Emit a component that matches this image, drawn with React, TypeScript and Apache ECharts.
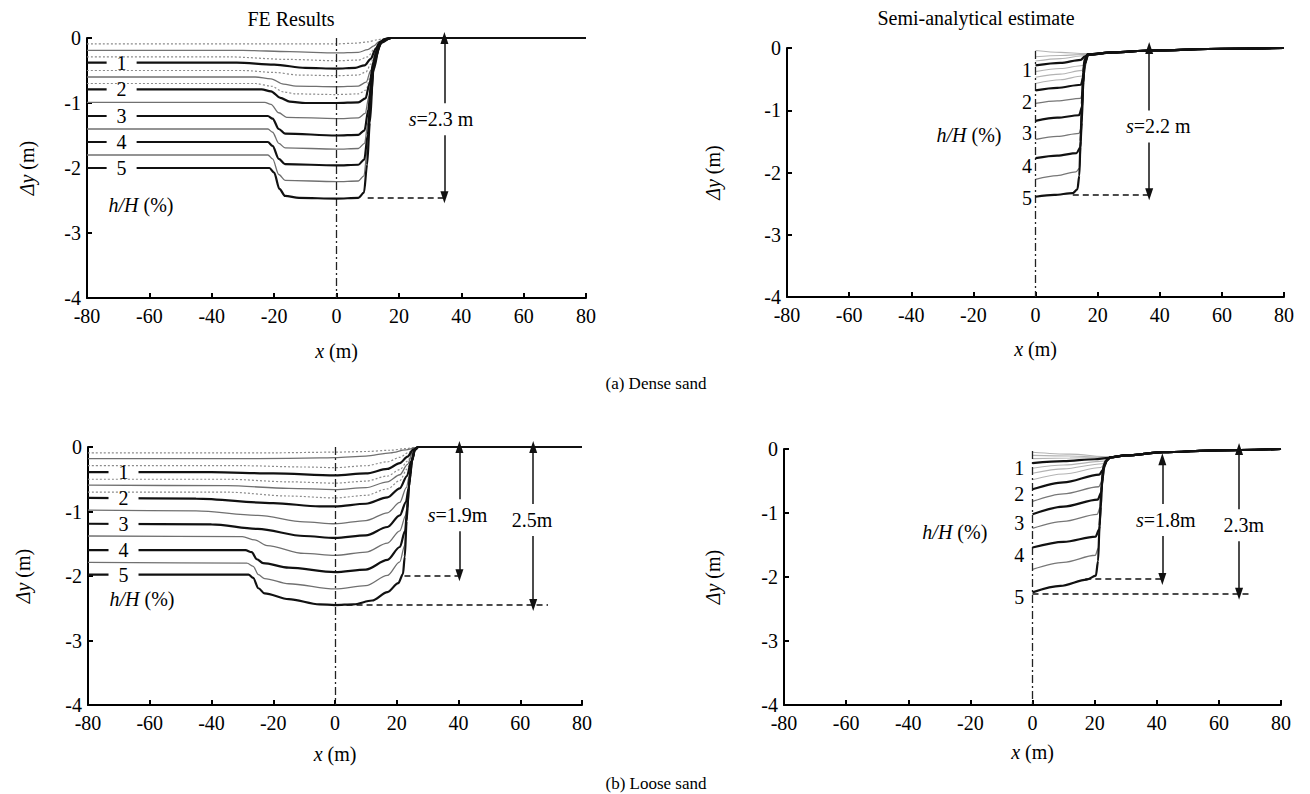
import React, { useEffect, useRef } from 'react';
import * as echarts from 'echarts';

const FONT = 'Liberation Serif, Times New Roman, serif';

// h/H (%) levels of the plotted profiles (same order in every panel)
const hHLevels = [0.25, 0.5, 0.75, 1, 1.25, 1.5, 1.75, 2, 2.5, 3, 3.5, 4, 4.5, 5];

// (a) Dense sand, FE results: [x (m), Δy (m)]
const feDense: number[][][] = [
  [[-80,-0.09],[-10,-0.09],[0,-0.09],[6,-0.08],[10,-0.06],[13,-0.03],[15,-0.01],[17,0],[80,0]],
  [[-80,-0.19],[-30,-0.19],[-15,-0.21],[0,-0.23],[7,-0.22],[10,-0.18],[12,-0.12],[13.5,-0.06],[15.5,-0.01],[17,0],[80,0]],
  [[-80,-0.29],[-35,-0.29],[-15,-0.33],[0,-0.35],[7,-0.34],[10,-0.29],[12,-0.18],[13.5,-0.08],[15.5,-0.02],[17,0],[80,0]],
  [[-80,-0.38],[-32,-0.38],[-20,-0.41],[-10,-0.46],[0,-0.47],[6,-0.46],[9,-0.42],[11,-0.32],[12.5,-0.17],[14,-0.06],[16,-0.01],[17.5,0],[80,0]],
  [[-80,-0.5],[-30,-0.5],[-20,-0.53],[-12,-0.57],[0,-0.58],[7,-0.57],[9.5,-0.52],[11,-0.4],[12.3,-0.22],[13.8,-0.07],[16,-0.01],[17.5,0],[80,0]],
  [[-80,-0.6],[-26,-0.6],[-21,-0.63],[-17,-0.71],[-13,-0.74],[0,-0.75],[7,-0.74],[9.5,-0.68],[11,-0.5],[12.2,-0.28],[13.6,-0.09],[16,-0.01],[17.5,0],[80,0]],
  [[-80,-0.7],[-26,-0.7],[-21,-0.74],[-17,-0.83],[-13,-0.86],[0,-0.87],[7,-0.86],[9.5,-0.8],[10.8,-0.6],[12,-0.32],[13.5,-0.1],[16,-0.01],[17.5,0],[80,0]],
  [[-80,-0.79],[-24,-0.79],[-21,-0.82],[-18,-0.92],[-15,-0.98],[-10,-1.0],[0,-1.0],[7,-0.99],[9.3,-0.93],[10.6,-0.7],[11.8,-0.38],[13.3,-0.12],[15.5,-0.02],[17.5,0],[80,0]],
  [[-80,-0.99],[-23,-0.99],[-21,-1.02],[-18.5,-1.15],[-16,-1.22],[0,-1.24],[7,-1.23],[9.2,-1.16],[10.4,-0.9],[11.5,-0.5],[13,-0.15],[15.5,-0.02],[17.5,0],[80,0]],
  [[-80,-1.2],[-22,-1.2],[-20.5,-1.24],[-18.5,-1.4],[-16.5,-1.47],[0,-1.5],[7,-1.49],[9,-1.42],[10.2,-1.1],[11.2,-0.65],[12.6,-0.22],[15,-0.03],[17.5,0],[80,0]],
  [[-80,-1.4],[-22,-1.4],[-20.5,-1.45],[-18.5,-1.62],[-16.5,-1.69],[0,-1.71],[7,-1.7],[9,-1.62],[10.1,-1.3],[11,-0.8],[12.4,-0.28],[15,-0.04],[17.5,0],[80,0]],
  [[-80,-1.6],[-22,-1.6],[-20.5,-1.66],[-18.5,-1.86],[-16.5,-1.94],[0,-1.96],[7,-1.95],[8.9,-1.87],[10,-1.5],[10.9,-0.95],[12.2,-0.33],[14.5,-0.05],[17.5,0],[80,0]],
  [[-80,-1.8],[-22,-1.8],[-20.5,-1.86],[-18.5,-2.1],[-16.5,-2.19],[0,-2.21],[7,-2.2],[8.8,-2.12],[9.9,-1.7],[10.8,-1.1],[12,-0.4],[14.5,-0.06],[17.5,0],[80,0]],
  [[-80,-2.0],[-21.5,-2.0],[-20,-2.07],[-18.3,-2.32],[-16.5,-2.43],[-12,-2.46],[0,-2.47],[7,-2.46],[8.8,-2.38],[9.8,-1.95],[10.7,-1.3],[11.8,-0.5],[14,-0.08],[17.5,0],[80,0]],
];

// (a) Dense sand, semi-analytical estimate
const saDense: number[][][] = [
  [[0,-0.04],[8,-0.07],[16,-0.09],[20,-0.085]],
  [[0,-0.14],[8,-0.12],[17,-0.1],[20,-0.085]],
  [[0,-0.21],[8,-0.17],[16,-0.12],[18,-0.095]],
  [[0,-0.28],[8,-0.24],[14.6,-0.19],[15.8,-0.14],[17.5,-0.1]],
  [[0,-0.38],[8,-0.33],[15.2,-0.28],[16.2,-0.17],[17.4,-0.11]],
  [[0,-0.47],[8,-0.42],[15,-0.36],[16,-0.22],[17.2,-0.12]],
  [[0,-0.57],[8,-0.51],[15,-0.45],[15.8,-0.3],[17,-0.12]],
  [[0,-0.68],[7,-0.64],[14.6,-0.59],[15.5,-0.45],[15.9,-0.25],[17,-0.11]],
  [[0,-0.89],[7,-0.85],[14.5,-0.81],[15.3,-0.68],[15.7,-0.35],[16.9,-0.11]],
  [[0,-1.17],[7,-1.12],[14,-1.08],[15,-0.95],[15.4,-0.55],[15.8,-0.25],[16.9,-0.1]],
  [[0,-1.47],[7,-1.42],[14,-1.37],[14.9,-1.25],[15.3,-0.8],[15.7,-0.3],[16.8,-0.1]],
  [[0,-1.77],[7,-1.73],[13.2,-1.69],[14.4,-1.6],[14.9,-1.2],[15.3,-0.6],[15.7,-0.25],[16.8,-0.1]],
  [[0,-2.11],[7,-2.05],[13,-1.99],[14.2,-1.93],[14.6,-1.6],[15,-1.0],[15.4,-0.45],[15.9,-0.19],[16.8,-0.1]],
  [[0,-2.39],[6,-2.36],[12,-2.33],[13.5,-2.27],[14.1,-2.05],[14.5,-1.5],[14.9,-0.9],[15.3,-0.4],[15.8,-0.18],[16.7,-0.1]],
];
const saDenseTop: number[][] = [[25,-0.07],[37,-0.04],[60,-0.012],[80,0]];

// (b) Loose sand, FE results
const feLoose: number[][][] = [
  [[-80,-0.09],[-20,-0.09],[0,-0.08],[10,-0.07],[18,-0.05],[23,-0.025],[26,-0.005],[27,0],[80,0]],
  [[-80,-0.18],[-25,-0.18],[-5,-0.17],[0,-0.165],[10,-0.14],[18,-0.09],[23,-0.045],[26,-0.01],[27,0],[80,0]],
  [[-80,-0.29],[-30,-0.29],[-10,-0.31],[0,-0.32],[10,-0.29],[17,-0.23],[21,-0.16],[24,-0.08],[26,-0.015],[27,0],[80,0]],
  [[-80,-0.39],[-40,-0.39],[-20,-0.41],[0,-0.44],[10,-0.41],[17,-0.34],[21,-0.25],[23.5,-0.15],[25.3,-0.04],[27,0],[80,0]],
  [[-80,-0.5],[-35,-0.5],[-15,-0.54],[0,-0.56],[10,-0.53],[17,-0.45],[21,-0.35],[23.5,-0.22],[25.3,-0.06],[27,0],[80,0]],
  [[-80,-0.59],[-35,-0.6],[-15,-0.64],[0,-0.66],[10,-0.63],[17,-0.54],[21,-0.43],[23.5,-0.27],[25.2,-0.07],[27,0],[80,0]],
  [[-80,-0.7],[-35,-0.7],[-15,-0.76],[0,-0.79],[10,-0.75],[17,-0.65],[21,-0.52],[23.4,-0.34],[25.1,-0.09],[27,0],[80,0]],
  [[-80,-0.79],[-45,-0.8],[-20,-0.87],[-5,-0.92],[0,-0.92],[10,-0.88],[17,-0.78],[21,-0.64],[23.3,-0.45],[24.7,-0.22],[25.8,-0.05],[27,0],[80,0]],
  [[-80,-0.98],[-45,-0.99],[-25,-1.06],[-10,-1.16],[0,-1.19],[10,-1.14],[17,-1.02],[21,-0.86],[23.1,-0.63],[24.3,-0.4],[25,-0.2],[25.9,-0.04],[27,0],[80,0]],
  [[-80,-1.19],[-40,-1.2],[-25,-1.27],[-10,-1.38],[0,-1.41],[10,-1.37],[17,-1.24],[21,-1.06],[23,-0.85],[23.8,-0.65],[24.4,-0.42],[25,-0.2],[25.9,-0.04],[27,0],[80,0]],
  [[-80,-1.38],[-30,-1.39],[-26,-1.44],[-22,-1.53],[-10,-1.65],[0,-1.68],[10,-1.63],[17,-1.49],[21,-1.3],[22.9,-1.06],[23.6,-0.8],[24.3,-0.45],[25,-0.2],[25.9,-0.04],[27,0],[80,0]],
  [[-80,-1.6],[-29,-1.6],[-27,-1.63],[-25.3,-1.74],[-23.3,-1.8],[-15,-1.87],[0,-1.94],[10,-1.9],[17,-1.75],[21,-1.55],[22.7,-1.3],[23.4,-0.95],[24.1,-0.55],[24.9,-0.22],[25.9,-0.04],[27,0],[80,0]],
  [[-80,-1.79],[-28.5,-1.8],[-26.5,-1.85],[-24.8,-1.98],[-22.8,-2.04],[-15,-2.12],[0,-2.2],[10,-2.15],[17,-1.99],[21,-1.78],[22.6,-1.52],[23.2,-1.15],[23.9,-0.62],[24.8,-0.23],[25.8,-0.04],[27,0],[80,0]],
  [[-80,-1.98],[-28,-1.98],[-26.5,-2.03],[-24.8,-2.19],[-22.8,-2.27],[-15,-2.36],[-5,-2.44],[0,-2.45],[6,-2.44],[12,-2.38],[17,-2.25],[20.5,-2.11],[22,-1.97],[22.6,-1.7],[23.2,-1.15],[23.9,-0.62],[24.8,-0.23],[25.8,-0.04],[27,0],[80,0]],
];

// (b) Loose sand, semi-analytical estimate
const saLoose: number[][][] = [
  [[0,-0.05],[12,-0.08],[24.95,-0.125]],
  [[0,-0.1],[12,-0.11],[24.9,-0.13]],
  [[0,-0.15],[12,-0.14],[24.8,-0.135]],
  [[0,-0.22],[10,-0.19],[20,-0.16],[24.5,-0.14]],
  [[0,-0.3],[10,-0.25],[23,-0.19],[24.5,-0.16]],
  [[0,-0.38],[10,-0.31],[22.5,-0.23],[24,-0.17]],
  [[0,-0.48],[10,-0.39],[22,-0.29],[23.5,-0.2]],
  [[0,-0.63],[10,-0.52],[21.5,-0.4],[22.6,-0.33],[23.2,-0.24],[24.2,-0.17]],
  [[0,-0.82],[10,-0.7],[21.3,-0.59],[22.4,-0.5],[22.9,-0.33],[24,-0.18]],
  [[0,-1.02],[10,-0.9],[21,-0.79],[22.1,-0.68],[22.6,-0.45],[23.1,-0.27],[24,-0.17]],
  [[0,-1.24],[10,-1.13],[20.8,-1.02],[21.9,-0.9],[22.4,-0.55],[23,-0.28],[23.9,-0.18]],
  [[0,-1.54],[10,-1.45],[20.3,-1.37],[21.5,-1.25],[22,-0.9],[22.4,-0.55],[22.9,-0.28],[23.8,-0.18]],
  [[0,-1.88],[10,-1.77],[20.2,-1.66],[21.2,-1.55],[21.7,-1.2],[22.2,-0.65],[22.8,-0.3],[23.7,-0.18]],
  [[0,-2.24],[9,-2.14],[17.5,-2.04],[20.4,-1.98],[21.1,-1.75],[21.6,-1.2],[22.1,-0.65],[22.7,-0.3],[23.6,-0.18]],
];
const saLooseTop: number[][] = [[25,-0.13],[30,-0.1],[42,-0.05],[60,-0.02],[80,0]];

// annotations (data units)
const annotations = [
  { // TL
    vline: [[0, 0], [0, -4]],
    arrows: [[34.6, 0, -2.45]],
    dashes: [[10, 34.6, -2.45]],
    boxed: [{ x: 33.5, y: -1.25, t: '{i|s}=2.3 m' }],
    nums: [{ x: -68.9, y: -0.38, t: '1' }, { x: -68.9, y: -0.79, t: '2' }, { x: -68.9, y: -1.2, t: '3' }, { x: -68.9, y: -1.6, t: '4' }, { x: -68.9, y: -2.0, t: '5' }],
    gapNums: true,
    hH: { x: -62.7, y: -2.57 },
  },
  { // TR
    vline: [[0, -0.05], [0, -4]],
    arrows: [[36.6, 0, -2.35]],
    dashes: [[12, 36.6, -2.35]],
    boxed: [{ x: 39.5, y: -1.26, t: '{i|s}=2.2 m' }],
    nums: [{ x: -2.7, y: -0.35, t: '1' }, { x: -2.7, y: -0.87, t: '2' }, { x: -2.7, y: -1.37, t: '3' }, { x: -2.7, y: -1.89, t: '4' }, { x: -2.7, y: -2.41, t: '5' }],
    gapNums: false,
    hH: { x: -21.4, y: -1.4 },
  },
  { // BL
    vline: [[0, 0], [0, -4]],
    arrows: [[40.3, 0, -1.99], [64.2, 0, -2.45]],
    dashes: [[22.5, 40.3, -1.99], [0.5, 69, -2.45]],
    boxed: [{ x: 39.7, y: -1.06, t: '{i|s}=1.9m' }, { x: 63.8, y: -1.13, t: '2.5m' }],
    nums: [{ x: -68.5, y: -0.39, t: '1' }, { x: -68.5, y: -0.79, t: '2' }, { x: -68.5, y: -1.19, t: '3' }, { x: -68.5, y: -1.6, t: '4' }, { x: -68.5, y: -1.98, t: '5' }],
    gapNums: true,
    hH: { x: -62.5, y: -2.36 },
  },
  { // BR
    vline: [[0, -0.03], [0, -4]],
    arrows: [[41.8, -0.16, -2.03], [66.5, 0, -2.26]],
    dashes: [[17, 41.8, -2.03], [0, 70.7, -2.26]],
    boxed: [{ x: 42.9, y: -1.11, t: '{i|s}=1.8m' }, { x: 68, y: -1.19, t: '2.3m' }],
    nums: [{ x: -4.3, y: -0.29, t: '1' }, { x: -4.3, y: -0.71, t: '2' }, { x: -4.3, y: -1.15, t: '3' }, { x: -4.3, y: -1.65, t: '4' }, { x: -4.3, y: -2.31, t: '5' }],
    gapNums: false,
    hH: { x: -25, y: -1.3 },
  },
];

const grids = [
  { left: 87, top: 38, width: 499, height: 260, xGap: 43, yGap: 50 },
  { left: 787, top: 48, width: 497, height: 249, xGap: 42, yGap: 64 },
  { left: 88, top: 447, width: 494, height: 258, xGap: 39, yGap: 55 },
  { left: 784, top: 449, width: 497, height: 256, xGap: 37, yGap: 61 },
];

const FS = 20;
const TXT = { fontFamily: FONT, fontSize: FS, color: '#000' };
const RICH = { i: { fontFamily: FONT, fontSize: FS, fontStyle: 'italic', color: '#000' } };

function styleFor(level: number, fe: boolean) {
  if (Number.isInteger(level)) return { color: '#111', width: 2.2, type: 'solid' as any, z: 5 };
  const half = Math.abs(level * 2 - Math.round(level * 2)) < 1e-9;
  if (fe) {
    if (half) return { color: '#707070', width: 1.3, type: 'solid' as any, z: 4 };
    return { color: '#8c8c8c', width: 1.2, type: [2, 2] as any, z: 3 };
  }
  if (half && level > 2) return { color: '#777', width: 1.3, type: 'solid' as any, z: 4 };
  return { color: '#b3b3b3', width: 1.1, type: 'solid' as any, z: 3 };
}

function withTop(curve: number[][], top: number[][]) {
  const last = curve[curve.length - 1][0];
  return curve.concat(top.filter((p) => p[0] > last));
}

function buildOption() {
  const panels = [
    { curves: feDense, fe: true },
    { curves: saDense.map((c) => withTop(c, saDenseTop)), fe: false },
    { curves: feLoose, fe: true },
    { curves: saLoose.map((c) => withTop(c, saLooseTop)), fe: false },
  ];
  const series: any[] = [];
  panels.forEach((p, gi) => {
    p.curves.forEach((data, k) => {
      const st = styleFor(hHLevels[k], p.fe);
      series.push({
        type: 'line', xAxisIndex: gi, yAxisIndex: gi, data, symbol: 'none', silent: true,
        smooth: 0.3, smoothMonotone: 'x', z: st.z,
        lineStyle: { color: st.color, width: st.width, type: st.type },
      });
    });
    const a = annotations[gi];
    const mlData: any[] = [];
    mlData.push([
      { coord: a.vline[0], lineStyle: { type: [8, 3, 2, 3], width: 1.3, color: '#222' } },
      { coord: a.vline[1] },
    ]);
    a.dashes.forEach((d) => {
      mlData.push([
        { coord: [d[0], d[2]], lineStyle: { type: [6, 4], width: 1.5, color: '#111' } },
        { coord: [d[1], d[2]] },
      ]);
    });
    a.arrows.forEach((r) => {
      mlData.push([
        { coord: [r[0], r[1]], symbol: 'triangle', symbolSize: [8, 12], lineStyle: { type: 'solid', width: 1.5, color: '#111' } },
        { coord: [r[0], r[2]], symbol: 'triangle', symbolSize: [8, 12] },
      ]);
    });
    series.push({
      type: 'line', xAxisIndex: gi, yAxisIndex: gi, data: [], symbol: 'none', silent: true, z: 6,
      markLine: {
        silent: true, animation: false, symbol: ['none', 'none'], label: { show: false },
        itemStyle: { color: '#111' }, emphasis: { disabled: true }, data: mlData,
      },
    });
  });

  return {
    animation: false,
    backgroundColor: '#fff',
    textStyle: { fontFamily: FONT },
    grid: grids.map((g) => ({ left: g.left, top: g.top, width: g.width, height: g.height })),
    xAxis: grids.map((g, i) => ({
      gridIndex: i, type: 'value', min: -80, max: 80, interval: 20,
      name: '{i|x} (m)', nameLocation: 'middle', nameGap: g.xGap,
      nameTextStyle: { ...TXT, rich: RICH },
      axisLine: { onZero: false, lineStyle: { color: '#000', width: 2 } },
      axisTick: { inside: true, length: 5, lineStyle: { color: '#000', width: 2 } },
      axisLabel: { ...TXT, margin: 8 },
      splitLine: { show: false },
    })),
    yAxis: grids.map((g, i) => ({
      gridIndex: i, type: 'value', min: -4, max: 0, interval: 1,
      name: '{i|Δy} (m)', nameLocation: 'middle', nameGap: g.yGap,
      nameTextStyle: { ...TXT, rich: RICH },
      axisLine: { onZero: false, lineStyle: { color: '#000', width: 2 } },
      axisTick: { inside: true, length: 5, lineStyle: { color: '#000', width: 2 } },
      axisLabel: { ...TXT, margin: 6 },
      splitLine: { show: false },
    })),
    series,
  };
}

function buildGraphic(chart: any) {
  const els: any[] = [];
  const text = (x: number, y: number, t: string, extra: any = {}) => ({
    type: 'text', x, y, z: 100, silent: true,
    style: { text: t, fontFamily: FONT, fontSize: FS, fill: '#000', align: 'center', verticalAlign: 'middle', rich: { i: { fontFamily: FONT, fontSize: extra.fontSize || FS, fontStyle: 'italic', fill: '#000' } }, ...extra },
  });
  els.push(text(291, 19, 'FE Results'));
  els.push(text(976, 18, 'Semi-analytical estimate'));
  els.push(text(656, 383, '(a) Dense sand', { fontSize: 17 }));
  els.push(text(656, 783, '(b) Loose sand', { fontSize: 17 }));
  annotations.forEach((a, gi) => {
    const px = (x: number, y: number) => chart.convertToPixel({ xAxisIndex: gi, yAxisIndex: gi }, [x, y]);
    a.boxed.forEach((b) => {
      const p = px(b.x, b.y);
      els.push(text(p[0], p[1], b.t, { backgroundColor: '#fff', padding: [6, 1] }));
    });
    a.nums.forEach((n) => {
      const p = px(n.x, n.y);
      if (a.gapNums) {
        els.push(text(p[0], p[1], n.t, { backgroundColor: '#fff', padding: [0, 10], lineHeight: 6 }));
      } else {
        els.push(text(p[0], p[1], n.t));
      }
    });
    const h = px(a.hH.x, a.hH.y);
    els.push(text(h[0], h[1], '{i|h/H} (%)'));
  });
  return els;
}

export default function App() {
  const ref = useRef<HTMLDivElement>(null);
  useEffect(() => {
    const chart = echarts.init(ref.current!, null, { renderer: 'svg' });
    chart.setOption(buildOption() as any);
    chart.setOption({ graphic: { elements: buildGraphic(chart) } } as any);
    return () => chart.dispose();
  }, []);
  return (
    <div
      ref={ref}
      style={{ position: 'fixed', left: 0, top: 0, width: 1310, height: 794, background: '#fff' }}
    />
  );
}
